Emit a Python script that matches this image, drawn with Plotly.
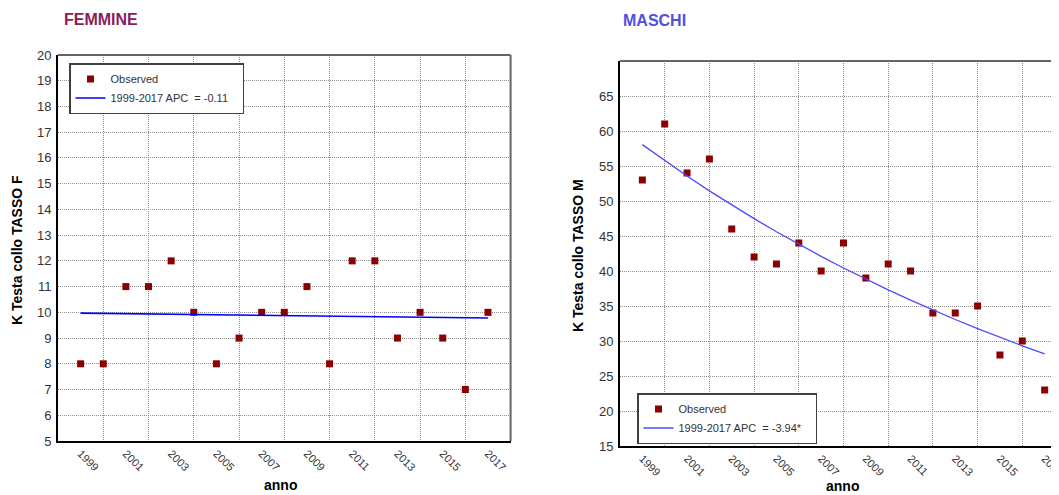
import plotly.graph_objects as go

years = list(range(1999, 2018))
tick_years = list(range(1999, 2018, 2))

fem_observed = [8, 8, 11, 11, 12, 10, 8, 9, 10, 10, 11, 8, 12, 12, 9, 10, 9, 7, 10]
fem_fit = [9.97, 9.96, 9.95, 9.94, 9.93, 9.92, 9.91, 9.90, 9.89, 9.88,
           9.86, 9.85, 9.84, 9.83, 9.82, 9.81, 9.80, 9.79, 9.78]
fem_fit_label = "1999-2017 APC\u00a0\u00a0= -0.11\u00a0\u00a0\u00a0"

mas_observed = [53, 61, 54, 56, 46, 42, 41, 44, 40, 44, 39, 41, 40, 34, 34, 35, 28, 30, 23]
mas_fit = [58.05, 55.76, 53.56, 51.45, 49.43, 47.48, 45.61, 43.81, 42.09, 40.43,
           38.84, 37.31, 35.84, 34.43, 33.07, 31.77, 30.52, 29.31, 28.16]
mas_fit_label = "1999-2017 APC\u00a0\u00a0= -3.94*\u00a0\u00a0\u00a0"

fem_yticks = list(range(5, 21))
mas_yticks = list(range(15, 66, 5))

FONT = "Liberation Sans, Arial, sans-serif"
MARK = "#8B0000"
GRID = "#8f8f8f"
DASH = "1px,1px"

W, H = 1059, 495
OFF = 8  # page body margin


def px(x):
    return (x - OFF) / W


def py(y):
    return 1 - (y - OFF) / H


fig = go.Figure()
fig.add_trace(go.Scatter(x=years, y=fem_observed, mode="markers", name="Observed",
                         marker=dict(symbol="square", size=7, color=MARK),
                         xaxis="x", yaxis="y", legend="legend"))
fig.add_trace(go.Scatter(x=years, y=fem_fit, mode="lines", name=fem_fit_label,
                         line=dict(color="#0000ff", width=1.6),
                         xaxis="x", yaxis="y", legend="legend"))
fig.add_trace(go.Scatter(x=years, y=mas_observed, mode="markers", name="Observed",
                         marker=dict(symbol="square", size=7, color=MARK),
                         xaxis="x2", yaxis="y2", legend="legend2"))
fig.add_trace(go.Scatter(x=years, y=mas_fit, mode="lines", name=mas_fit_label,
                         line=dict(color="#4a4aff", width=1.3),
                         xaxis="x2", yaxis="y2", legend="legend2"))


def xaxis(domain, rng, anchor):
    return dict(domain=domain, range=rng, anchor=anchor, automargin=False,
                tickmode="array", tickvals=tick_years, ticktext=[str(v) for v in tick_years],
                tickangle=45, tickfont=dict(size=11, color="#333", family=FONT),
                showgrid=False, zeroline=False, ticks="",
                minor=dict(tick0=2000, dtick=2, showgrid=True, gridcolor=GRID,
                           griddash=DASH, gridwidth=1, ticks=""),
                showline=True, linecolor="black", linewidth=2, fixedrange=True)


def yaxis(domain, rng, ticks, anchor):
    return dict(domain=domain, range=rng, anchor=anchor, automargin=False,
                tickmode="array", tickvals=ticks,
                tickfont=dict(size=13, color="#333", family=FONT),
                showgrid=True, gridcolor=GRID, griddash=DASH, gridwidth=1,
                zeroline=False, ticks="", ticklabelstandoff=2,
                showline=True, linecolor="black", linewidth=2, fixedrange=True)


legend_common = dict(bgcolor="white", bordercolor="#404040", borderwidth=1.5,
                     font=dict(size=11, color="#333", family=FONT),
                     xanchor="left", yanchor="top", tracegroupgap=0)

fig.update_layout(
    width=W, height=H,
    margin=dict(l=0, r=0, t=0, b=0, autoexpand=False),
    paper_bgcolor="white", plot_bgcolor="white",
    font=dict(family=FONT, color="#333"),
    xaxis=xaxis([px(58), px(510.6)], [1998, 2018], "y"),
    yaxis=yaxis([py(441), py(55)], [5, 20], fem_yticks, "x"),
    xaxis2=xaxis([px(620), 1.0], [1998, 2018.0], "y2"),
    yaxis2=yaxis([py(446), py(61)], [15, 70], mas_yticks, "x2"),
    legend=dict(x=px(69), y=py(63), **legend_common),
    legend2=dict(x=px(637), y=py(393), **legend_common),
    showlegend=True,
    shapes=[
        dict(type="line", xref="x domain", yref="y domain", x0=0, x1=1, y0=1, y1=1,
             line=dict(color="#666", width=2)),
        dict(type="line", xref="x domain", yref="y domain", x0=1, x1=1, y0=0, y1=1,
             line=dict(color="#666", width=2)),
        dict(type="line", xref="x2 domain", yref="y2 domain", x0=0, x1=1, y0=1, y1=1,
             line=dict(color="#666", width=2)),
    ],
    annotations=[
        dict(text="<b>FEMMINE</b>", x=px(101), y=py(19), xref="paper", yref="paper",
             showarrow=False, font=dict(size=16, color="#8B1C5C", family=FONT),
             xanchor="center", yanchor="middle"),
        dict(text="<b>MASCHI</b>", x=px(654.5), y=py(20), xref="paper", yref="paper",
             showarrow=False, font=dict(size=16, color="#5050E0", family=FONT),
             xanchor="center", yanchor="middle"),
        dict(text="<b>K Testa collo TASSO F</b>", x=px(17), y=py(250), xref="paper", yref="paper",
             showarrow=False, textangle=-90, font=dict(size=14, color="black", family=FONT),
             xanchor="center", yanchor="middle"),
        dict(text="<b>K Testa collo TASSO M</b>", x=px(578), y=py(256), xref="paper", yref="paper",
             showarrow=False, textangle=-90, font=dict(size=14, color="black", family=FONT),
             xanchor="center", yanchor="middle"),
        dict(text="<b>anno</b>", x=px(280), y=py(485), xref="paper", yref="paper",
             showarrow=False, font=dict(size=14, color="black", family=FONT),
             xanchor="center", yanchor="middle"),
        dict(text="<b>anno</b>", x=px(842), y=py(486), xref="paper", yref="paper",
             showarrow=False, font=dict(size=14, color="black", family=FONT),
             xanchor="center", yanchor="middle"),
    ],
)

fig.write_html("out.html")
